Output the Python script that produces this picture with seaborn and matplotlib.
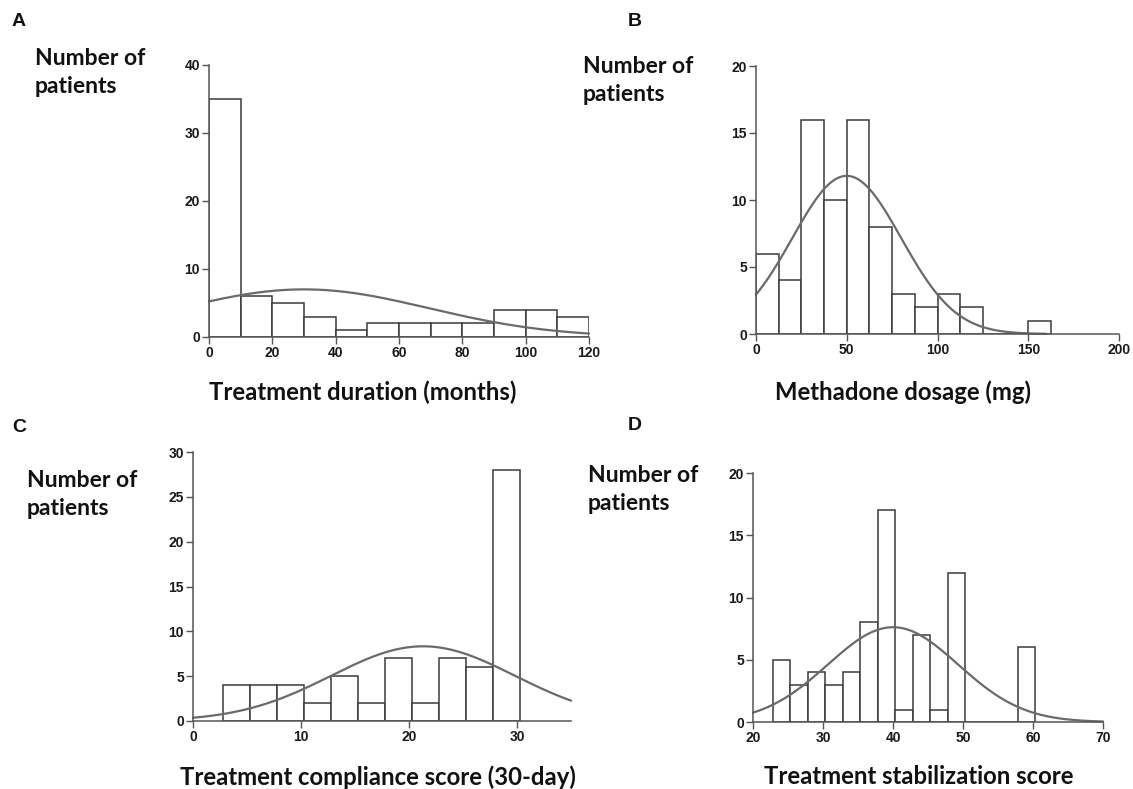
import numpy as np
import pandas as pd
import matplotlib
matplotlib.use('Agg')
import matplotlib.pyplot as plt
import seaborn as sns

# histogram data (bin edges + counts per bin)
dur_edges = [0, 10, 20, 30, 40, 50, 60, 70, 80, 90, 100, 110, 120]
dur_counts = [35, 6, 5, 3, 1, 2, 2, 2, 2, 4, 4, 3]

dose_edges = [0, 12.5, 25, 37.5, 50, 62.5, 75, 87.5, 100, 112.5, 125, 137.5, 150, 162.5]
dose_counts = [6, 4, 16, 10, 16, 8, 3, 2, 3, 2, 0, 0, 1]

comp_edges = [2.75, 5.25, 7.75, 10.25, 12.75, 15.25, 17.75, 20.25, 22.75, 25.25, 27.75, 30.25]
comp_counts = [4, 4, 4, 2, 5, 2, 7, 2, 7, 6, 28]

stab_edges = [22.85, 25.35, 27.85, 30.35, 32.85, 35.35, 37.85, 40.35, 42.85, 45.35,
              47.85, 50.35, 52.85, 55.35, 57.85, 60.35]
stab_counts = [5, 3, 4, 3, 4, 8, 17, 1, 7, 1, 12, 0, 0, 0, 6]

# normal curve fit parameters (mean, sd)
dur_fit = (30.0, 39.3)
dose_fit = (50.0, 30.0)
comp_fit = (21.3, 8.5)
stab_fit = (40.0, 9.3)

W, H = 1133, 789
fig = plt.figure(figsize=(W / 100, H / 100), dpi=100)

sns.set_style('white')
plt.rcParams['font.family'] = ['Liberation Sans', 'DejaVu Sans']

spine_col = '#555555'
bar_col = '#3a3a3a'
curve_col = '#6a6a6a'


def px_axes(x0, x1, y_top, y_bot):
    return fig.add_axes([x0 / W, 1 - y_bot / H, (x1 - x0) / W, (y_bot - y_top) / H])


def panel(ax, edges, counts, fit, xlim, ylim, xticks, yticks, curve_range):
    e = np.array(edges)
    mids = (e[:-1] + e[1:]) / 2
    df = pd.DataFrame({'x': mids, 'n': counts})
    sns.histplot(data=df, x='x', weights='n', bins=list(edges), color='white', alpha=1,
                 edgecolor=bar_col, linewidth=1.1, ax=ax)
    # fitted normal, scaled to counts per bin
    mu, sd = fit
    width = e[1] - e[0]
    n = sum(counts)
    xs = np.linspace(curve_range[0], curve_range[1], 300)
    ys = n * width / (sd * np.sqrt(2 * np.pi)) * np.exp(-(xs - mu) ** 2 / (2 * sd ** 2))
    sns.lineplot(x=xs, y=ys, color=curve_col, linewidth=1.6, ax=ax, clip_on=False)
    ax.set_xlim(*xlim)
    ax.set_ylim(*ylim)
    ax.set_xticks(list(xticks))
    ax.set_yticks(list(yticks))
    ax.set_xlabel('')
    ax.set_ylabel('')
    sns.despine(ax=ax)
    for s in ['left', 'bottom']:
        ax.spines[s].set_color(spine_col)
        ax.spines[s].set_linewidth(1.1)
    ax.tick_params(direction='out', length=5, width=1, color=spine_col, pad=1.5,
                   labelsize=10, labelcolor='#1a1a1a', left=True, bottom=True)
    for lab in ax.get_xticklabels() + ax.get_yticklabels():
        lab.set_fontweight('bold')
    ax.patch.set_alpha(0)


axA = px_axes(209, 589, 65, 337)
panel(axA, dur_edges, dur_counts, dur_fit, (0, 120), (0, 40),
      range(0, 121, 20), range(0, 41, 10), (0, 120))

axB = px_axes(756, 1119, 66, 334)
panel(axB, dose_edges, dose_counts, dose_fit, (0, 200), (0, 20),
      range(0, 201, 50), range(0, 21, 5), (0, 160))

axC = px_axes(193, 571, 452, 721)
panel(axC, comp_edges, comp_counts, comp_fit, (0, 35), (0, 30),
      range(0, 31, 10), range(0, 31, 5), (0, 35))

axD = px_axes(753, 1103, 473, 722)
panel(axD, stab_edges, stab_counts, stab_fit, (20, 70), (0, 20),
      range(20, 71, 10), range(0, 21, 5), (20, 70))

# panel letters
for letter, x, y in [('A', 12, 22), ('B', 628, 22), ('C', 12, 427), ('D', 628, 425)]:
    fig.text(x / W, 1 - y / H, letter, fontsize=14, fontweight='bold',
             ha='left', va='center', color='#111111')

# y titles, one text per line, placed at baselines
title_font = dict(fontsize=16.5, fontweight='bold', family=['Lato', 'DejaVu Sans'],
                  color='#111111')
for x, y in [(35, 65), (583, 73), (27, 487), (588, 482)]:
    fig.text(x / W, 1 - y / H, 'Number of', ha='left', va='baseline', **title_font)
    fig.text(x / W, 1 - (y + 28) / H, 'patients', ha='left', va='baseline', **title_font)

# x titles
xt_font = dict(title_font, fontsize=17.2)
for txt, x, y in [('Treatment duration (months)', 363, 392),
                  ('Methadone dosage (mg)', 903, 392),
                  ('Treatment compliance score (30-day)', 378, 777),
                  ('Treatment stabilization score', 919, 777)]:
    fig.text(x / W, 1 - y / H, txt, ha='center', va='center', **xt_font)

fig.savefig('out.png', dpi=100, facecolor='white')
